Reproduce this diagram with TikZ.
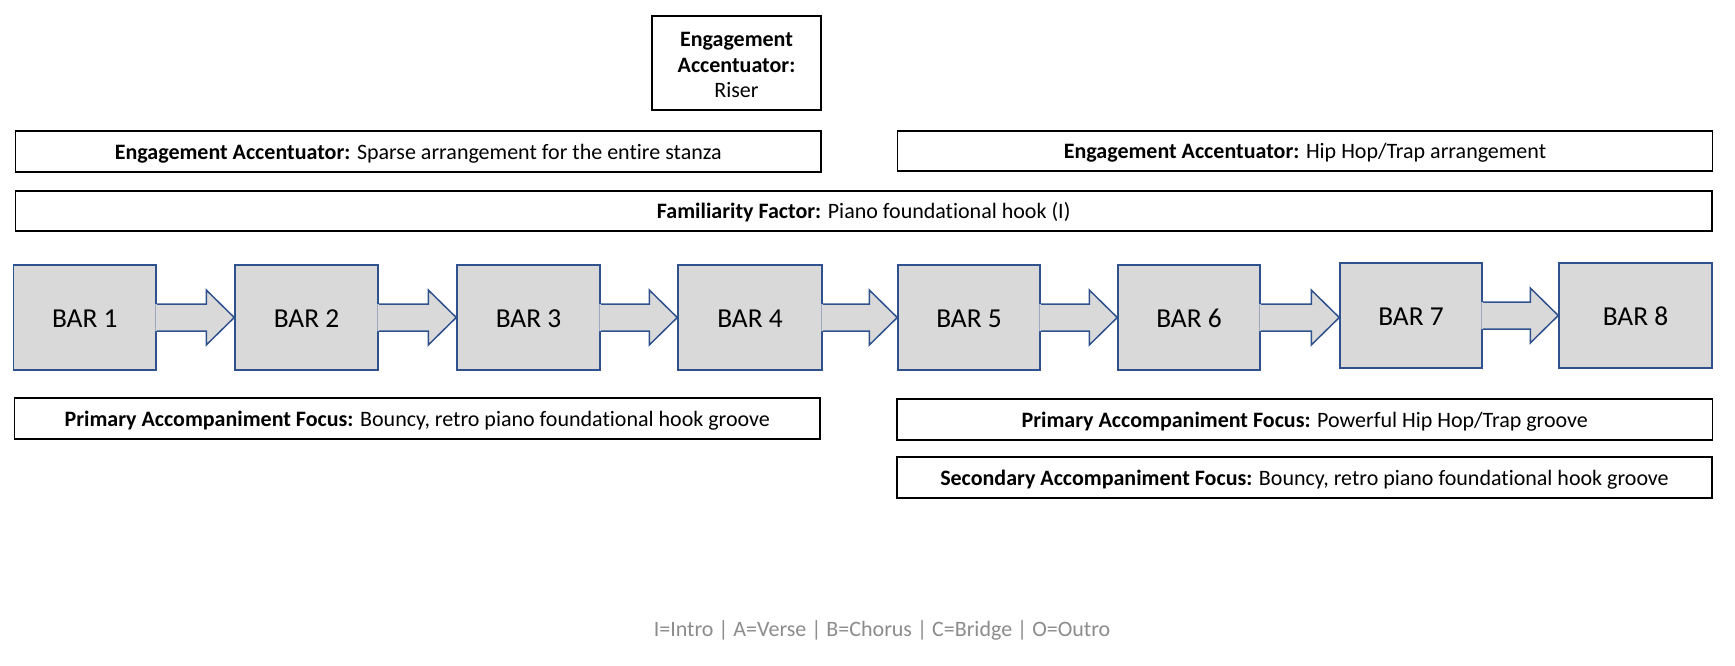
\documentclass[tikz,border=0pt]{standalone}
\usepackage{fontspec}
\setmainfont{Carlito}[Ligatures=NoCommon]
\usetikzlibrary{calc}
\definecolor{barfillc}{HTML}{D9D9D9}
\definecolor{barlinec}{HTML}{2F528F}
\definecolor{legendc}{HTML}{8C8C8C}
\tikzset{
  labelbox/.style={draw=black, line width=1.8pt, fill=white, inner sep=0pt, align=center, font=\fontsize{22}{25.4}\selectfont},
  labelone/.style={labelbox, text height=20pt, text depth=4pt},
  labeltext/.style={inner sep=0pt, align=center, font=\fontsize{22}{25.4}\selectfont},
  barbox/.style={draw=barlinec, line width=1.5pt, fill=barfillc, inner sep=0pt, minimum height=105pt, text height=22pt, text depth=1.6pt, font=\fontsize{27.4}{32}\selectfont},
  barfill/.style={fill=barfillc},
  barline/.style={draw=barlinec, line width=1.5pt, line join=miter},
  legend/.style={text=legendc, inner sep=0pt, font=\fontsize{22}{26}\selectfont}
}
\newcommand\bararrow[2]{%
  \coordinate (tip#1) at (#1.east -| #2.west);
  \fill[barfill] ($(#1.east)+(-1.5,-13.5)$) -- ($(tip#1)+(-28,-13.5)$) -- ($(tip#1)+(-28,-27.5)$) -- (tip#1)
     -- ($(tip#1)+(-28,27.5)$) -- ($(tip#1)+(-28,13.5)$) -- ($(#1.east)+(-1.5,13.5)$) -- cycle;
  \draw[barline] ($(#1.east)+(0,-13.5)$) -- ($(tip#1)+(-28,-13.5)$) -- ($(tip#1)+(-28,-27.5)$) -- (tip#1)
     -- ($(tip#1)+(-28,27.5)$) -- ($(tip#1)+(-28,13.5)$) -- ($(#1.east)+(0,13.5)$);
}
\begin{document}
\begin{tikzpicture}[x=1pt,y=-1pt]
\useasboundingbox[fill=white] (0,0) rectangle (1735,665);

% top label boxes
\node[labelbox, minimum width=169pt, minimum height=94.3pt] (riser) at (736.5,62.85) {};
\node[labeltext] (risertext) at ($(riser.center)+(0,2.2)$)
  {\textbf{Engagement}\\\textbf{Accentuator:}\\Riser};
\node[labelone, minimum width=805.5pt, minimum height=41pt] (sparse) at (418.25,151.2)
  {\textbf{Engagement Accentuator:} Sparse arrangement for the entire stanza};
\node[labelone, minimum width=815pt, minimum height=40pt] (hiphop) at (1305,150.6)
  {\textbf{Engagement Accentuator:} Hip Hop/Trap arrangement};
\node[labelone, minimum width=1696.5pt, minimum height=40pt] (familiar) at (863.75,210.7)
  {\textbf{Familiarity Factor:} Piano foundational hook (I)};

% bars
\node[barbox, minimum width=142.5pt] (b1) at (84.75,317.5) {BAR 1};
\node[barbox, minimum width=143pt] (b2) at (306.5,317.5) {BAR 2};
\node[barbox, minimum width=143pt] (b3) at (528.5,317.5) {BAR 3};
\node[barbox, minimum width=144pt] (b4) at (750,317.5) {BAR 4};
\node[barbox, minimum width=142pt] (b5) at (969,317.5) {BAR 5};
\node[barbox, minimum width=142pt] (b6) at (1189,317.5) {BAR 6};
\node[barbox, minimum width=142pt] (b7) at (1411,315.5) {BAR 7};
\node[barbox, minimum width=153pt] (b8) at (1635.5,315.5) {BAR 8};

\bararrow{b1}{b2}
\bararrow{b2}{b3}
\bararrow{b3}{b4}
\bararrow{b4}{b5}
\bararrow{b5}{b6}
\bararrow{b6}{b7}
\bararrow{b7}{b8}

% bottom label boxes
\node[labelone, minimum width=805.5pt, minimum height=41pt] (primL) at (417.25,418.5)
  {\textbf{Primary Accompaniment Focus:} Bouncy, retro piano foundational hook groove};
\node[labelone, minimum width=815.5pt, minimum height=41pt] (primR) at (1304.75,419.5)
  {\textbf{Primary Accompaniment Focus:} Powerful Hip Hop/Trap groove};
\node[labelone, minimum width=815pt, minimum height=41pt] (second) at (1304.5,477.5)
  {\textbf{Secondary Accompaniment Focus:} Bouncy, retro piano foundational hook groove};

\node[legend] (leg) at (882,630.7) {I=Intro | A=Verse | B=Chorus | C=Bridge | O=Outro};
\end{tikzpicture}
\end{document}
